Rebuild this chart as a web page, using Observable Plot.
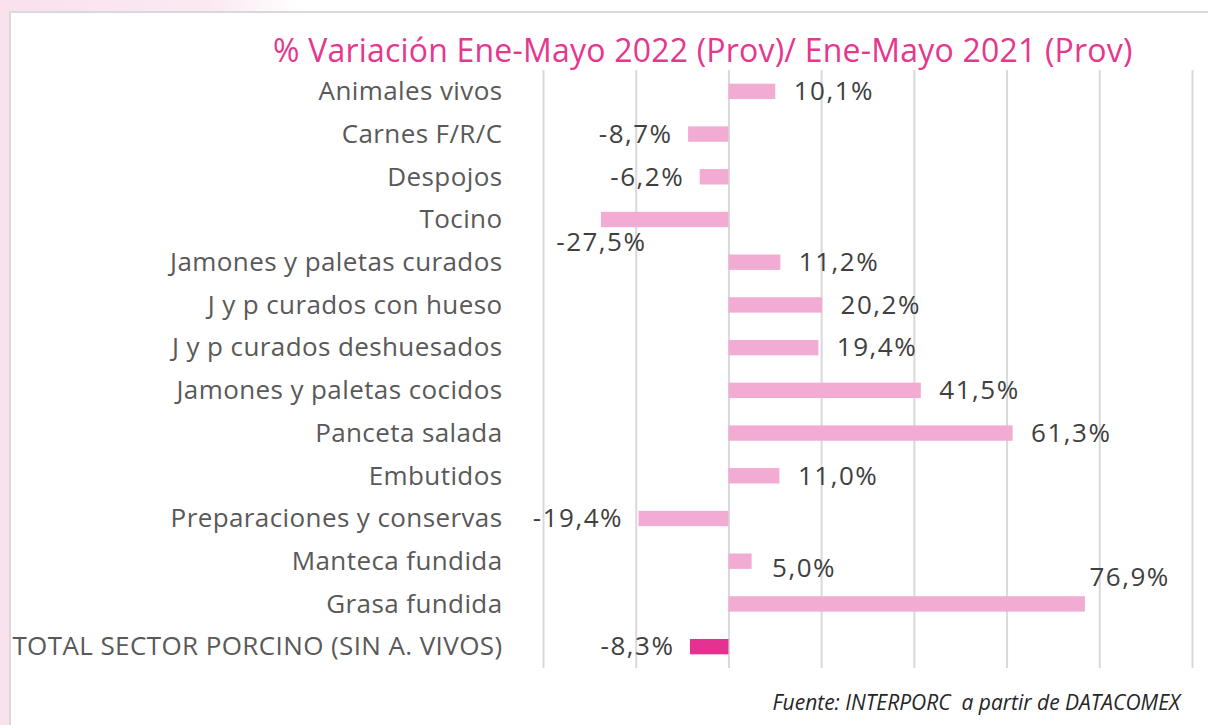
<!DOCTYPE html>
<html>
<head>
<meta charset="utf-8">
<script src="https://cdn.jsdelivr.net/npm/d3@7"></script>
<script src="https://cdn.jsdelivr.net/npm/@observablehq/plot@0.6"></script>
<style>
  html, body { margin: 0; padding: 0; background: #fff; }
  #wrap { position: relative; width: 1208px; height: 725px; overflow: hidden; font-family: "Open Sans", Lato, sans-serif; }
  #pinkLeft { position: absolute; left: 0; top: 0; width: 9px; height: 725px; background: #f9e1ee; }
  #pinkTop { position: absolute; left: 0; top: 0; width: 300px; height: 11px; background: linear-gradient(90deg, #f9e1ee 0%, #fbe9f2 70%, #ffffff 100%); }
  #box { position: absolute; left: 9px; top: 11px; width: 1199px; height: 714px; border-left: 2px solid #d9d9d9; border-top: 2px solid #d9d9d9; background: #fff; box-sizing: border-box; }
  #chart { position: absolute; left: 0; top: 0; }
  #title { position: absolute; left: 273px; top: 34px; font-size: 32px; letter-spacing: 0.2px; color: #e6378f; white-space: nowrap; line-height: 1; }
  #source { position: absolute; right: 28px; top: 688px; font-size: 21px; font-style: italic; color: #262626; white-space: nowrap; }
  #chart svg [aria-label="y-axis tick label"] text { letter-spacing: 0.4px; }
  #chart svg [aria-label="text"] text { letter-spacing: 1.5px; }
</style>
</head>
<body>
<div id="wrap">
  <div id="pinkLeft"></div>
  <div id="pinkTop"></div>
  <div id="box"></div>
  <div id="chart"></div>
  <div id="title">% Variación Ene-Mayo 2022 (Prov)/ Ene-Mayo 2021 (Prov)</div>
  <div id="source">Fuente: INTERPORC&nbsp; a partir de DATACOMEX</div>
</div>
<script>
const categories = [
  "Animales vivos",
  "Carnes F/R/C",
  "Despojos",
  "Tocino",
  "Jamones y paletas curados",
  "J y p curados con hueso",
  "J y p curados deshuesados",
  "Jamones y paletas cocidos",
  "Panceta salada",
  "Embutidos",
  "Preparaciones y conservas",
  "Manteca fundida",
  "Grasa fundida",
  "TOTAL SECTOR PORCINO (SIN A. VIVOS)"
];
const values = [10.1, -8.7, -6.2, -27.5, 11.2, 20.2, 19.4, 41.5, 61.3, 11.0, -19.4, 5.0, 76.9, -8.3];
const labels = ["10,1%", "-8,7%", "-6,2%", "-27,5%", "11,2%", "20,2%", "19,4%", "41,5%", "61,3%", "11,0%", "-19,4%", "5,0%", "76,9%", "-8,3%"];
const gridTicks = [-40, -20, 0, 20, 40, 60, 80, 100];
const totalCategory = "TOTAL SECTOR PORCINO (SIN A. VIVOS)";

// label placement adjustments (style, not data)
const labelNudge = {
  "Tocino": {anchor: "end", dx: 45, dy: 23},
  "Manteca fundida": {anchor: "start", dx: 20, dy: 7},
  "Grasa fundida": {anchor: "start", dx: 4, dy: -27}
};

const data = categories.map((c, i) => ({category: c, value: values[i], label: labels[i], total: c === totalCategory}));
const lab = data.map(d => {
  const n = labelNudge[d.category];
  const pos = d.value >= 0;
  return {...d, anchor: n ? n.anchor : (pos ? "start" : "end"), dx: n ? n.dx : (pos ? 18 : -16), dy: n ? n.dy : 0};
});

function textMark(subset) {
  const s = subset[0];
  return Plot.text(subset, {x: "value", y: "category", text: "label", textAnchor: s.anchor, dx: s.dx, dy: s.dy,
    fill: "#404040", fontSize: 26});
}
const groups = d3.groups(lab, d => `${d.anchor}|${d.dx}|${d.dy}`).map(g => textMark(g[1]));

const plot = Plot.plot({
  width: 1208,
  height: 725,
  marginTop: 70,
  marginBottom: 57,
  marginLeft: 543,
  marginRight: 16,
  style: {background: "transparent", fontFamily: "'Open Sans', Lato, sans-serif"},
  x: {domain: [-40, 100], axis: null},
  y: {domain: categories, paddingInner: 0.64, paddingOuter: 0.32, round: false, axis: null},
  marks: [
    Plot.ruleX(gridTicks, {stroke: "#d9d9d9", strokeWidth: 2}),
    Plot.barX(data, {x: "value", y: "category", fill: d => d.total ? "#e5318f" : "#f2acd4"}),
    Plot.axisY({tickSize: 0, tickPadding: 41, fontSize: 26, fill: "#595959", label: null}),
    ...groups
  ]
});
document.getElementById("chart").appendChild(plot);
</script>
</body>
</html>
